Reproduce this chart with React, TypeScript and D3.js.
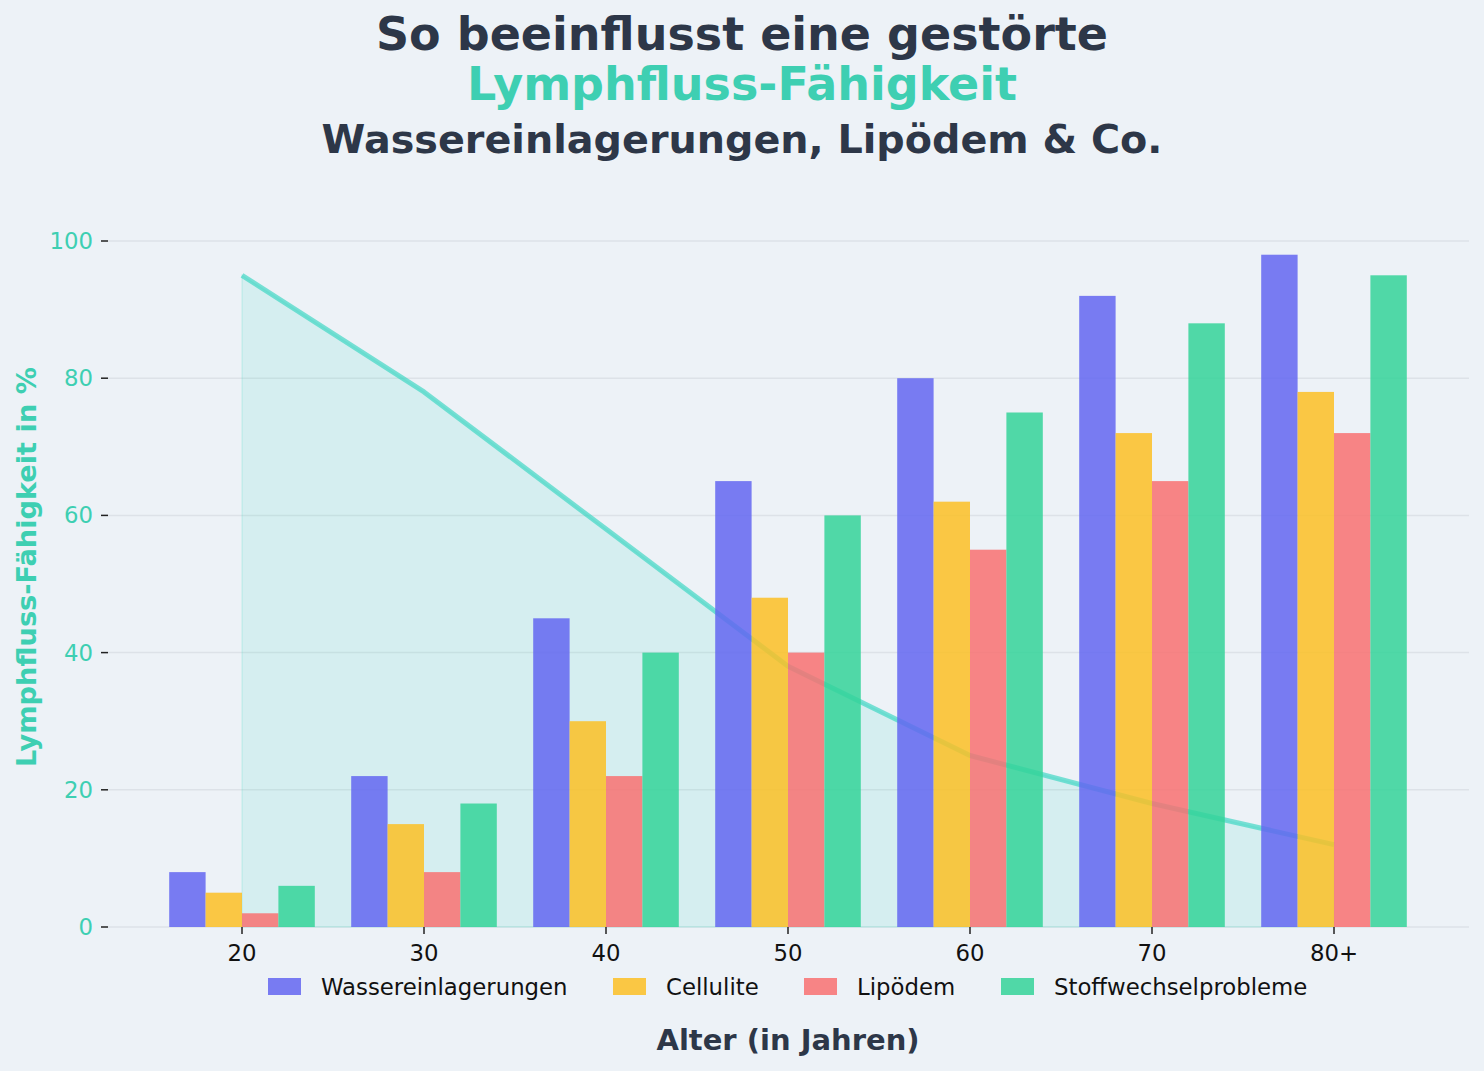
import React from 'react';
import * as d3 from 'd3';

const ages = ['20', '30', '40', '50', '60', '70', '80+'];
const wasser = [8, 22, 45, 65, 80, 92, 98];
const cellulite = [5, 15, 30, 48, 62, 72, 78];
const lipoedem = [2, 8, 22, 40, 55, 65, 72];
const stoffwechsel = [6, 18, 40, 60, 75, 88, 95];
const lymphfluss = [95, 78, 58, 38, 25, 18, 12];
const yTicks = [0, 20, 40, 60, 80, 100];

const series = [
  { name: 'Wassereinlagerungen', values: wasser, color: '#6366f1' },
  { name: 'Cellulite', values: cellulite, color: '#fbbf24' },
  { name: 'Lipödem', values: lipoedem, color: '#f87171' },
  { name: 'Stoffwechselprobleme', values: stoffwechsel, color: '#34d399' },
];

const W = 1484;
const H = 1071;
const FONT = '"DejaVu Sans", sans-serif';
const TEXT = '#2d3748';
const TEAL = '#3ecfb2';

export default function App() {
  const axLeft = 108;
  const axRight = 1469;
  const x = d3.scalePoint<string>().domain(ages).range([242, 1334]);
  const step = x.step();
  const barW = step * 0.2;
  const y = d3.scaleLinear().domain([0, 100]).range([927, 241]);

  const line = d3
    .line<number>()
    .x((_, i) => x(ages[i]) as number)
    .y((d) => y(d));
  const area = d3
    .area<number>()
    .x((_, i) => x(ages[i]) as number)
    .y0(y(0))
    .y1((d) => y(d));

  return (
    <svg
      width={W}
      height={H}
      style={{ position: 'absolute', left: 0, top: 0, background: '#edf2f7' }}
      fontFamily={FONT}
    >
      <rect width={W} height={H} fill="#edf2f7" />

      {/* titles */}
      <text x={742} y={50} textAnchor="middle" fontSize={46} fontWeight="bold" fill={TEXT}>
        So beeinflusst eine gestörte
      </text>
      <text x={742} y={100} textAnchor="middle" fontSize={46} fontWeight="bold" fill={TEAL}>
        Lymphfluss-Fähigkeit
      </text>
      <text x={742} y={153} textAnchor="middle" fontSize={39.7} fontWeight="bold" fill={TEXT}>
        Wassereinlagerungen, Lipödem &amp; Co.
      </text>

      {/* grid */}
      {yTicks.map((t) => (
        <g key={t}>
          <line x1={axLeft} x2={axRight} y1={y(t)} y2={y(t)} stroke="#dde2e8" strokeWidth={1.5} />
          <line x1={axLeft - 7} x2={axLeft} y1={y(t)} y2={y(t)} stroke="#222" strokeWidth={1.5} />
          <text
            x={axLeft - 15}
            y={y(t)}
            dy="0.35em"
            textAnchor="end"
            fontSize={22.8}
            fill={TEAL}
          >
            {t}
          </text>
        </g>
      ))}

      {/* area + line */}
      <path d={area(lymphfluss) as string} fill="#2dd4bf" fillOpacity={0.12} stroke="#2dd4bf" strokeOpacity={0.15} strokeWidth={1.5} />
      <path
        d={line(lymphfluss) as string}
        fill="none"
        stroke="#2dd4bf"
        strokeOpacity={0.62}
        strokeWidth={5}
        strokeLinejoin="round"
      />

      {/* bars */}
      {series.map((s, si) =>
        s.values.map((v, i) => (
          <rect
            key={s.name + i}
            x={(x(ages[i]) as number) + (si - 2) * barW}
            y={y(v)}
            width={barW}
            height={y(0) - y(v)}
            fill={s.color}
            fillOpacity={0.85}
          />
        ))
      )}

      {/* x axis */}
      {ages.map((a) => (
        <g key={a}>
          <line x1={x(a)} x2={x(a)} y1={927} y2={934} stroke="#222" strokeWidth={1.5} />
          <text x={x(a)} y={961} textAnchor="middle" fontSize={22.8} fill="#111">
            {a}
          </text>
        </g>
      ))}

      {/* legend */}
      {series.map((s, i) => {
        const lx = [268, 613, 804, 1001][i];
        return (
          <g key={s.name}>
            <rect x={lx} y={978} width={33} height={17} fill={s.color} fillOpacity={0.85} />
            <text x={lx + 53} y={987} dy="0.35em" fontSize={22.8} fill="#111">
              {s.name}
            </text>
          </g>
        );
      })}

      <text x={788} y={1050} textAnchor="middle" fontSize={29} fontWeight="bold" fill={TEXT}>
        Alter (in Jahren)
      </text>
      <text
        transform={`translate(36,567) rotate(-90)`}
        textAnchor="middle"
        fontSize={27.2}
        fontWeight="bold"
        fill={TEAL}
      >
        Lymphfluss-Fähigkeit in %
      </text>
    </svg>
  );
}
